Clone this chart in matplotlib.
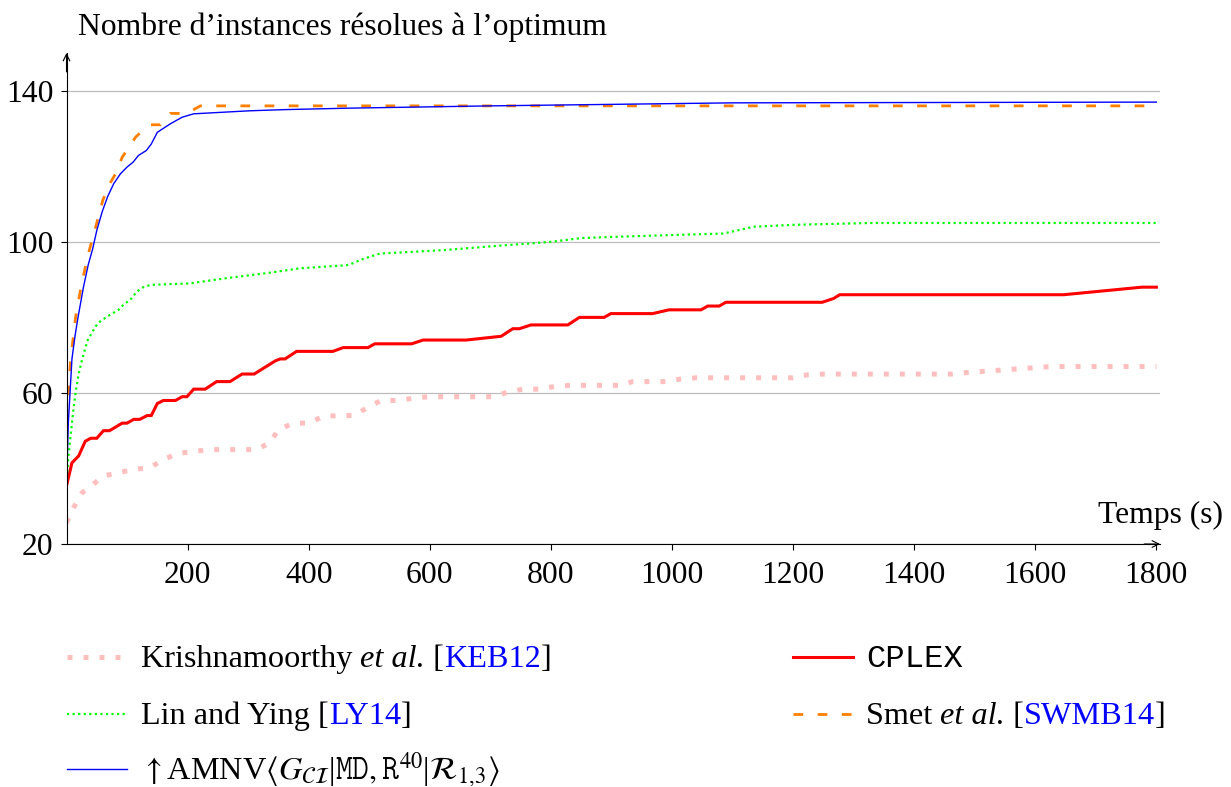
import matplotlib

matplotlib.use("Agg")
import matplotlib.pyplot as plt
from matplotlib.lines import Line2D

plt.rcParams["font.family"] = ["Liberation Serif", "DejaVu Serif"]
plt.rcParams["mathtext.fontset"] = "stix"

W, H = 1231, 787

# Krishnamoorthy et al. [KEB12]
keb_t = [0, 12, 26, 44, 61, 89, 114, 138, 160, 185, 210, 235, 314, 336, 350, 375,
         400, 424, 450, 476, 498, 520, 550, 575, 600, 704, 729, 754, 781, 806, 831,
         913, 935, 963, 990, 1015, 1040, 1199, 1224, 1251, 1463, 1487, 1540, 1565,
         1592, 1618, 1644, 1800]
keb_n = [25.7, 29.7, 33.6, 35.8, 38, 39, 39.8, 40.2, 42.4, 44, 44.5, 45, 45, 46.8,
         50.3, 52, 52, 53.8, 54, 54, 56.3, 58, 58, 58.7, 59, 59, 60.2, 61, 61, 61.7,
         62, 62, 63, 63, 63, 63.7, 64, 64, 64.8, 65, 65, 65.4, 66, 66.3, 66.6, 66.9,
         67, 67]

# CPLEX
cplex_t = [0, 9, 20, 31, 40, 50, 61, 71, 92, 100, 111, 121, 133, 140, 150, 160, 180,
           191, 199, 210, 229, 248, 270, 290, 310, 330, 345, 353, 361, 380, 440, 457,
           498, 509, 570, 589, 660, 718, 737, 748, 767, 828, 847, 888, 899, 968, 995,
           1048, 1059, 1078, 1089, 1248, 1267, 1277, 1647, 1776, 1800]
cplex_n = [35.4, 41.5, 43.3, 47.2, 48, 48, 50, 50, 52, 52, 53, 53, 54, 54, 57.2, 58,
           58, 59, 59, 61, 61, 63, 63, 65, 65, 67, 68.5, 69, 69, 71, 71, 72, 72, 73,
           73, 74, 74, 75, 77, 77, 78, 78, 80, 80, 81, 81, 82, 82, 83, 83, 84, 84, 85,
           86, 86, 88, 88]

# Lin and Ying [LY14]
ly_t = [0, 3, 7, 11, 15, 20, 26, 35, 48, 56, 70, 86, 95, 105, 116, 127, 139, 170,
        204, 260, 330, 386, 462, 468, 490, 518, 622, 700, 800, 850, 900, 1000, 1085,
        1135, 1200, 1330, 1800]
ly_n = [36, 43, 49, 55, 60, 65, 69, 74, 77.6, 79, 80.5, 82, 83.5, 84.6, 86.8, 88,
        88.6, 88.8, 89, 90.3, 91.7, 93, 93.8, 94, 95.5, 96.9, 97.8, 98.8, 100, 101,
        101.3, 101.8, 102.2, 104, 104.5, 105, 105]

# Smet et al. [SWMB14]
swmb_t = [0, 3, 7, 15, 25, 38, 50, 60, 70, 81, 92, 103, 114, 126, 138, 155, 171,
          199, 221, 1800]
swmb_n = [53, 60, 69, 80, 89, 98, 105, 111, 115, 118, 122.4, 125, 127.7, 129.5,
          131, 131, 134, 134, 136, 136]

# AMNV
amnv_t = [0, 3, 9, 14, 19, 28, 36, 43, 50, 59, 68, 78, 89, 100, 110, 119, 126, 132,
          140, 150, 171, 191, 210, 303, 358, 468, 700, 900, 1100, 1800]
amnv_n = [36, 52, 69, 75, 80, 88, 94, 98, 103, 108, 112, 115.4, 118, 119.8, 121.1,
          122.9, 123.6, 124.2, 125.9, 129, 131.2, 133, 133.9, 134.7, 135, 135.4, 136,
          136.4, 136.8, 137]

x_ticks = [200, 400, 600, 800, 1000, 1200, 1400, 1600, 1800]
y_ticks = [20, 60, 100, 140]

PINK = "#ffbfbf"
RED = "#ff0000"
GREEN = "#00ff00"
ORANGE = "#ff8000"
BLUE = "#0000ff"
LINK = "#0000ff"

styles = {
    "keb": dict(color=PINK, lw=3.6, linestyle=(0, (1, 2.2)), dash_capstyle="butt"),
    "cplex": dict(color=RED, lw=2.2, solid_joinstyle="miter"),
    "ly": dict(color=GREEN, lw=1.6, linestyle=(0, (1, 1.5)), dash_capstyle="butt"),
    "swmb": dict(color=ORANGE, lw=2.0, linestyle=(0, (3.5, 5.2)), dash_capstyle="butt"),
    "amnv": dict(color=BLUE, lw=1.0),
}

LABEL_SIZE = 22.8
LEG_SIZE = 23.2

fig = plt.figure(figsize=(W / 100, H / 100), dpi=100)
ax = fig.add_axes([66.5 / W, 243 / H, 1093.5 / W, 491 / H])

ax.plot(keb_t, keb_n, **styles["keb"])
ax.plot(cplex_t, cplex_n, **styles["cplex"])
ax.plot(ly_t, ly_n, **styles["ly"])
ax.plot(swmb_t, swmb_n, **styles["swmb"])
ax.plot(amnv_t, amnv_n, **styles["amnv"])

ax.set_xlim(0, 1806)
ax.set_ylim(20, 150)
ax.set_xticks(x_ticks)
ax.set_yticks(y_ticks)
ax.yaxis.grid(True, color="#bdbdbd", lw=0.9)
ax.set_axisbelow(True)
for side in ("top", "right"):
    ax.spines[side].set_visible(False)
for side in ("left", "bottom"):
    ax.spines[side].set_linewidth(0.8)
ax.tick_params(direction="out", length=4.3, width=0.8, labelsize=LABEL_SIZE)
ax.tick_params(axis="x", pad=8)
ax.tick_params(axis="y", pad=5)

# arrow tips on both axis lines
arrow = dict(arrowstyle="->", lw=0.8, color="black", shrinkA=0, shrinkB=0,
             mutation_scale=12)
ax.annotate("", xy=(1806, 20), xytext=(1780, 20), arrowprops=arrow, annotation_clip=False)
ax.annotate("", xy=(0, 150), xytext=(0, 145), arrowprops=arrow, annotation_clip=False)

fig.text(78 / W, 1 - 35 / H, "Nombre d’instances résolues à l’optimum",
         fontsize=LABEL_SIZE, ha="left", va="baseline")
fig.text(1223 / W, 1 - 523 / H, "Temps (s)", fontsize=LABEL_SIZE, ha="right",
         va="baseline")

# legend, drawn by hand so the citation keys can be coloured
renderer = fig.canvas.get_renderer()


def advance(s, props):
    a = fig.text(0, 0, s + "|", fontsize=LEG_SIZE, **props)
    b = fig.text(0, 0, "|", fontsize=LEG_SIZE, **props)
    w = a.get_window_extent(renderer).width - b.get_window_extent(renderer).width
    a.remove()
    b.remove()
    return w


def rich_text(x, baseline, parts):
    for s, props in parts:
        fig.text(x / W, 1 - baseline / H, s, fontsize=LEG_SIZE, ha="left",
                 va="baseline", **props)
        x += advance(s, props)


def legend_entry(x_line, y_line, style, parts, x_text):
    fig.add_artist(Line2D([x_line / W, (x_line + 60) / W], [1 - y_line / H] * 2,
                          transform=fig.transFigure, **style))
    rich_text(x_text, y_line + 10, parts)


ital = {"style": "italic"}
blue = {"color": LINK}
amnv_parts = [
    (r"$\uparrow$AMNV$\langle G_{\mathcal{CI}}$", {}),
    ("|", {}),
    (r"$\mathtt{MD},\mathtt{R}^{40}$", {}),
    ("|", {}),
    (r"$\mathcal{R}_{1,\!3}\rangle$", {}),
]
legend_entry(67, 657, styles["keb"],
             [("Krishnamoorthy ", {}), ("et al.", ital), (" [", {}), ("KEB12", blue), ("]", {})],
             141)
legend_entry(67, 714, styles["ly"],
             [("Lin and Ying [", {}), ("LY14", blue), ("]", {})], 141)
legend_entry(67, 769, styles["amnv"], amnv_parts, 141)
legend_entry(793, 657, styles["cplex"],
             [("CPLEX", {"family": "Liberation Mono"})], 866)
legend_entry(793, 714, styles["swmb"],
             [("Smet ", {}), ("et al.", ital), (" [", {}), ("SWMB14", blue), ("]", {})], 866)

fig.savefig("out.png", dpi=100)
